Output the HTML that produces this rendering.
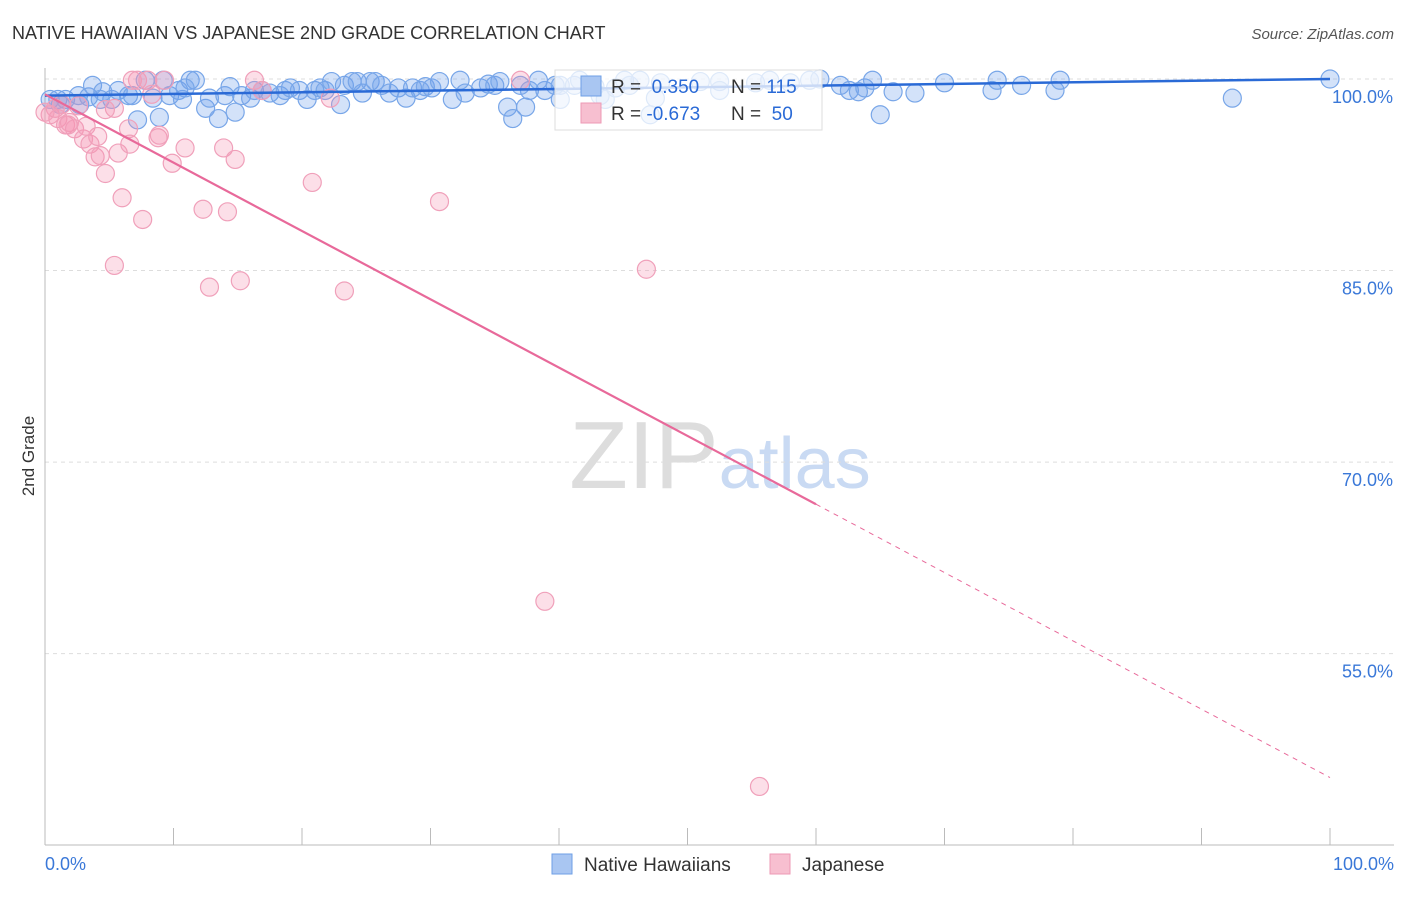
<!DOCTYPE html>
<html><head><meta charset="utf-8"><style>
body{margin:0;background:#fff;font-family:"Liberation Sans",sans-serif;}
svg text{font-family:"Liberation Sans",sans-serif;}
</style></head><body>
<svg id="chart" width="1406" height="892" viewBox="0 0 1406 892">
<text x="12" y="39" font-size="18" fill="#333">NATIVE HAWAIIAN VS JAPANESE 2ND GRADE CORRELATION CHART</text>
<text x="1394" y="39" font-size="15" fill="#555" text-anchor="end" font-style="italic">Source: ZipAtlas.com</text>
<text x="720" y="488" font-size="96" text-anchor="middle" fill="#ddd" font-family="Liberation Serif,serif">ZIP<tspan fill="#c9daf3" font-family="Liberation Sans,sans-serif" font-size="72">atlas</tspan></text>
<g id="grid"></g>
<g id="axes"></g>
<g id="pts"></g>
<g id="lines"></g>
<text transform="translate(34,456) rotate(-90)" font-size="17" fill="#333" text-anchor="middle">2nd Grade</text>
<g>
<rect x="555" y="70" width="267" height="60" fill="#fff" fill-opacity="0.75" stroke="#ddd"/>
<rect x="581" y="76" width="20" height="20" fill="#a9c6f2" stroke="#6e9fe6"/>
<rect x="581" y="103" width="20" height="20" fill="#f7bfd0" stroke="#ee9ab5"/>
<text x="611" y="93" font-size="19" fill="#333">R = <tspan fill="#2a6ad6">&#160;0.350</tspan><tspan x="731">N = </tspan><tspan fill="#2a6ad6">115</tspan></text>
<text x="611" y="120" font-size="19" fill="#333">R = <tspan fill="#2a6ad6">-0.673</tspan><tspan x="731">N = </tspan><tspan fill="#2a6ad6">&#160;50</tspan></text>
</g>
<g>
<rect x="552" y="854" width="20" height="20" fill="#a9c6f2" stroke="#6e9fe6"/>
<text x="584" y="871" font-size="19" fill="#333">Native Hawaiians</text>
<rect x="770" y="854" width="20" height="20" fill="#f7bfd0" stroke="#ee9ab5"/>
<text x="802" y="871" font-size="19" fill="#333">Japanese</text>
</g>
</svg>
<script>
const yTicks=[100,85,70,55];
const xTickLabels=["0.0%","100.0%"];
const blueX=[0.4,1.0,1.6,2.6,3.4,3.7,4.5,5.2,5.7,6.5,6.8,7.2,7.8,8.4,8.9,9.2,9.7,10.4,10.7,11.3,11.7,12.5,12.8,13.5,14.0,14.4,14.8,15.3,16.0,16.3,16.9,17.5,18.3,18.7,19.1,19.8,20.4,21.0,21.4,21.8,22.3,23.0,23.3,23.9,24.3,24.7,25.3,25.7,26.2,26.8,27.5,28.1,28.6,29.2,29.6,30.1,30.7,31.7,32.3,32.7,33.9,34.5,35.0,35.4,36.0,36.4,37.4,37.7,38.4,38.9,39.7,40.1,41.2,41.6,42.8,43.6,44.4,45.1,45.5,46.3,47.5,47.9,51.0,52.5,55.3,56.4,58.0,59.5,60.3,61.9,62.6,63.3,63.8,64.4,65.0,66.0,67.7,70.0,73.7,74.1,76.0,78.6,79.0,92.4,100,43.2,40.1,52.5,47.1,37.0,10.9,4.3,1.2,2.7];
const blueY=[98.4,98.4,98.4,98.7,98.6,99.5,99.0,98.4,99.1,98.7,98.7,96.8,99.9,98.5,97.0,99.9,98.7,99.1,98.4,99.9,99.9,97.7,98.5,96.9,98.7,99.4,97.4,98.7,98.5,99.1,99.1,98.9,98.7,99.1,99.3,99.1,98.4,99.1,99.3,99.1,99.8,98.0,99.5,99.8,99.8,98.9,99.8,99.8,99.5,98.9,99.3,98.5,99.3,99.1,99.4,99.3,99.8,98.4,99.9,98.9,99.3,99.6,99.5,99.8,97.8,96.9,97.8,99.1,99.9,99.1,99.5,99.5,99.5,99.9,99.4,98.4,99.3,99.9,99.5,99.9,98.5,99.7,99.8,99.8,99.7,99.9,99.7,99.9,100,99.5,99.1,99.0,99.3,99.9,97.2,99.0,98.9,99.7,99.1,99.9,99.5,99.1,99.9,98.5,100,98.7,98.4,99.1,97.2,99.5,99.3,98.4,98.0,98.0];
const pinkX=[0.4,0.8,1.0,1.3,1.6,1.9,2.3,2.6,3.0,3.2,3.5,3.9,4.1,4.3,4.7,5.4,5.4,5.7,6.0,6.5,6.6,6.8,7.2,7.6,8.0,8.3,8.8,8.9,9.3,9.9,10.9,12.3,12.8,13.9,14.2,14.8,15.2,16.3,16.9,20.8,22.2,23.3,30.7,37.0,38.9,46.8,55.6,1.8,4.7,0];
const pinkY=[97.2,97.7,96.9,98.0,96.4,96.6,96.1,97.9,95.3,96.3,94.9,93.9,95.5,94.0,92.6,97.7,85.4,94.2,90.7,96.1,94.9,99.9,99.9,89.0,99.9,98.8,95.4,95.6,99.9,93.4,94.6,89.8,83.7,94.6,89.6,93.7,84.2,99.9,99.1,91.9,98.5,83.4,90.4,99.9,59.1,85.1,44.6,96.4,97.6,97.4];
const blueTrend=[98.7,100.0];
const pinkTrend=[98.8,45.3];
const NS="http://www.w3.org/2000/svg";
const X0=45,X1=1330,Y100=79,PER=12.77;
const xs=v=>X0+(X1-X0)*v/100;
const ys=v=>Y100+(100-v)*PER;
function mk(tag,attrs,parent){const e=document.createElementNS(NS,tag);for(const k in attrs)e.setAttribute(k,attrs[k]);document.getElementById(parent).appendChild(e);return e;}
yTicks.forEach(t=>{
 const l=mk('line',{x1:X0,x2:1394,y1:ys(t),y2:ys(t),stroke:'#ddd','stroke-dasharray':'4,4'},'grid');
 
 
 const tx=mk('text',{x:1393,y:ys(t)+24,'font-size':18,fill:'#3a78d8','text-anchor':'end'},'grid');
 tx.textContent=t.toFixed(1)+'%';
 
 
});
const ax=mk('line',{x1:X0,x2:X0,y1:68,y2:845,stroke:'#bbb'},'axes');


const bx=mk('line',{x1:X0,x2:1394,y1:845,y2:845,stroke:'#bbb'},'axes');


for(let i=0;i<=10;i++){
 const t=mk('line',{x1:xs(i*10),x2:xs(i*10),y1:828,y2:845,stroke:'#bbb'},'axes');
 
 
}
[[0,'start',45],[1,'end',1394]].forEach(([i,a,x])=>{
 const t=mk('text',{x:x,y:870,'font-size':18,fill:'#3a78d8','text-anchor':a},'axes');
 t.textContent=xTickLabels[i];
 
 
});
blueX.forEach((v,i)=>{
 const c=mk('circle',{cx:xs(v),cy:ys(blueY[i]),r:9,fill:'rgba(110,160,235,0.3)',stroke:'#78a6e8','stroke-width':1.2},'pts');
 
 
});
pinkX.forEach((v,i)=>{
 const c=mk('circle',{cx:xs(v),cy:ys(pinkY[i]),r:9,fill:'rgba(244,150,180,0.3)',stroke:'#f0a0ba','stroke-width':1.2},'pts');
 
 
});
const bl=mk('line',{x1:xs(0),y1:ys(blueTrend[0]),x2:xs(100),y2:ys(blueTrend[1]),stroke:'#2a6ad6','stroke-width':2.5},'lines');


const pAt=x=>pinkTrend[0]+(pinkTrend[1]-pinkTrend[0])*x/100;
const pl=mk('line',{x1:xs(0),y1:ys(pAt(0)),x2:xs(60),y2:ys(pAt(60)),stroke:'#e8699a','stroke-width':2.2},'lines');


const pd=mk('line',{x1:xs(60),y1:ys(pAt(60)),x2:xs(100),y2:ys(pAt(100)),stroke:'#e8699a','stroke-width':1,'stroke-dasharray':'5,5'},'lines');


</script>
</body></html>
